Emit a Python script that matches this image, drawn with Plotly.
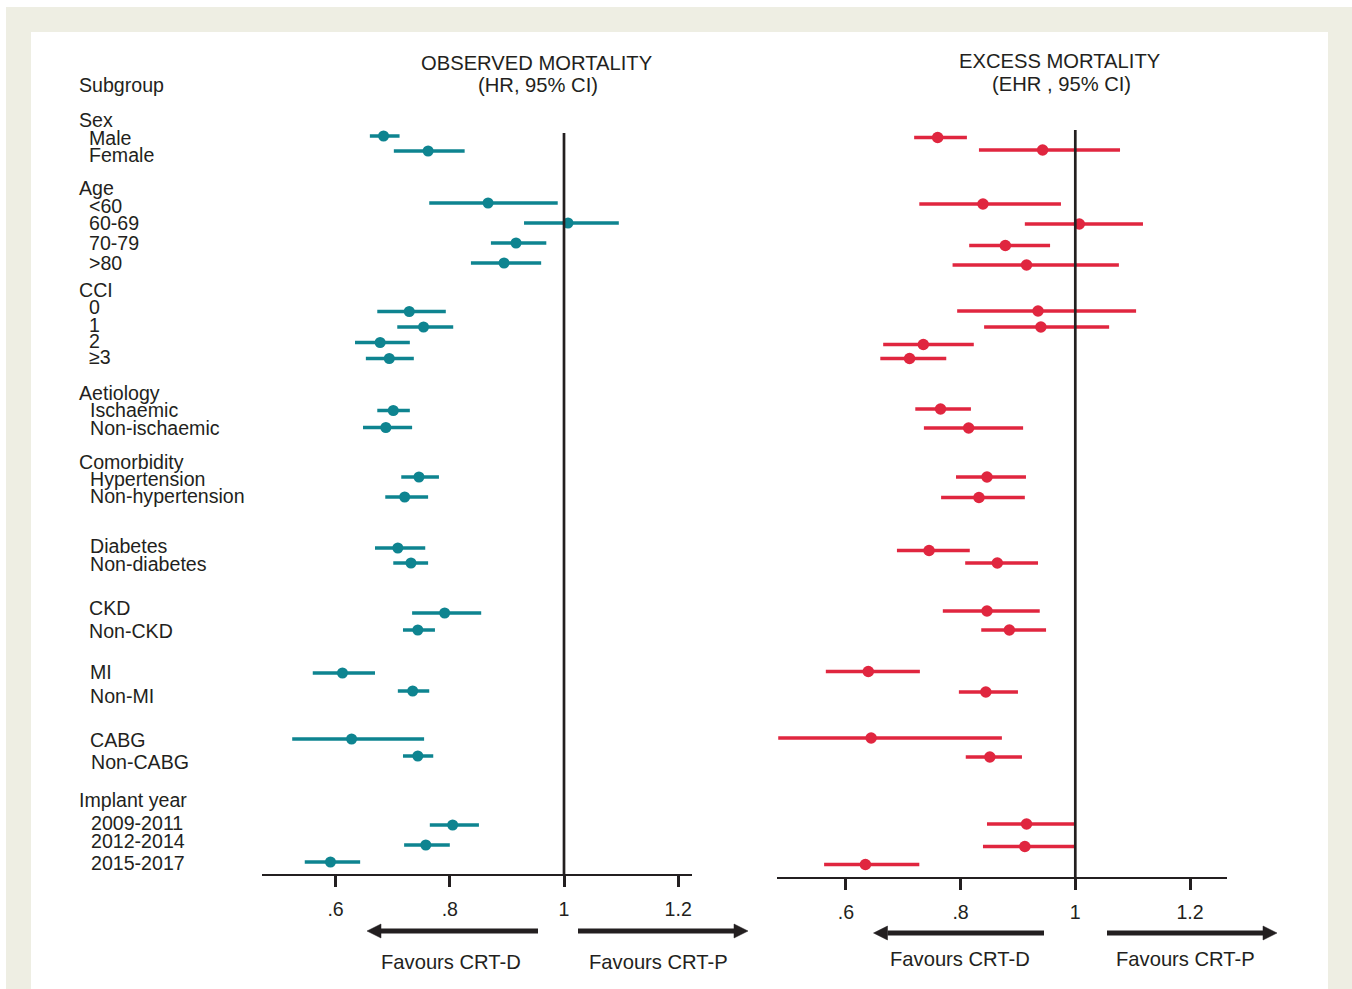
import plotly.graph_objects as go

# ---------------- data ----------------
subgroups = ["Male", "Female", "<60", "60-69", "70-79", ">80", "0", "1", "2", "≥3",
             "Ischaemic", "Non-ischaemic", "Hypertension", "Non-hypertension",
             "Diabetes", "Non-diabetes", "CKD", "Non-CKD", "MI", "Non-MI",
             "CABG", "Non-CABG", "2009-2011", "2012-2014", "2015-2017"]

# Observed mortality (HR, 95% CI)
hr = [0.684, 0.762, 0.867, 1.007, 0.916, 0.895, 0.729, 0.754, 0.678, 0.694,
      0.701, 0.688, 0.746, 0.721, 0.709, 0.732, 0.791, 0.744, 0.612, 0.735,
      0.628, 0.744, 0.805, 0.758, 0.591]
hr_lo = [0.660, 0.702, 0.764, 0.930, 0.872, 0.837, 0.673, 0.708, 0.634, 0.653,
         0.673, 0.648, 0.715, 0.687, 0.669, 0.701, 0.734, 0.718, 0.560, 0.709,
         0.524, 0.718, 0.765, 0.720, 0.546]
hr_hi = [0.712, 0.826, 0.989, 1.096, 0.969, 0.960, 0.793, 0.806, 0.730, 0.737,
         0.730, 0.734, 0.781, 0.762, 0.757, 0.762, 0.855, 0.774, 0.669, 0.764,
         0.755, 0.771, 0.851, 0.800, 0.643]

# Excess mortality (EHR, 95% CI)
ehr = [0.760, 0.943, 0.839, 1.007, 0.878, 0.915, 0.935, 0.940, 0.735, 0.711,
       0.765, 0.814, 0.846, 0.832, 0.745, 0.864, 0.846, 0.885, 0.639, 0.844,
       0.644, 0.851, 0.915, 0.912, 0.634]
ehr_lo = [0.719, 0.832, 0.728, 0.912, 0.815, 0.786, 0.794, 0.841, 0.665, 0.660,
          0.721, 0.736, 0.792, 0.766, 0.689, 0.808, 0.769, 0.836, 0.565, 0.797,
          0.482, 0.809, 0.846, 0.839, 0.562]
ehr_hi = [0.811, 1.078, 0.975, 1.118, 0.956, 1.076, 1.106, 1.059, 0.823, 0.775,
          0.818, 0.909, 0.914, 0.912, 0.816, 0.935, 0.938, 0.949, 0.729, 0.900,
          0.872, 0.907, 1.000, 1.000, 0.728]

tick_vals = [0.6, 0.8, 1.0, 1.2]
tick_text = [".6", ".8", "1", "1.2"]

# ---------------- layout constants (pixel geometry) ----------------
W, H = 1352, 989
# vertical row positions (pixels from top) for each subgroup row
obs_row_y = [136, 151, 203, 223, 243, 263, 311.5, 327, 342.5, 358.5, 410.5, 427.5,
             477, 497, 548, 563, 613, 630, 673, 691, 739, 756, 825, 845, 862]
exc_row_y = [137.5, 150, 204, 224, 245.5, 265, 311, 327, 344.5, 358.5, 409, 428,
             477, 497.5, 550.5, 563, 611, 630, 671.5, 692, 738, 757, 824, 846.5, 864.5]

# left-hand text column: (text, x, y)
label_rows = [
    ("Subgroup", 80, 85), ("Sex", 80, 119.5), ("Male", 90, 137.5), ("Female", 90, 155),
    ("Age", 80, 188), ("<60", 90, 205.7), ("60-69", 90, 223), ("70-79", 90, 243),
    (">80", 90, 262.7), ("CCI", 80, 290), ("0", 90, 307), ("1", 90, 325), ("2", 90, 341),
    ("≥3", 90, 357), ("Aetiology", 80, 393.3), ("Ischaemic", 90.7, 410),
    ("Non-ischaemic", 90.7, 427.8), ("Comorbidity", 80, 461.7),
    ("Hypertension", 90.7, 478.7), ("Non-hypertension", 90.7, 496),
    ("Diabetes", 90.7, 546), ("Non-diabetes", 90.7, 564), ("CKD", 90, 607.8),
    ("Non-CKD", 90, 631), ("MI", 90.7, 672), ("Non-MI", 90.7, 695.5),
    ("CABG", 90.7, 740), ("Non-CABG", 92.3, 762), ("Implant year", 80, 799.5),
    ("2009-2011", 91.7, 823), ("2012-2014", 91.7, 841), ("2015-2017", 91.7, 863),
]

TEAL = "#0e8490"
RED = "#e0263f"
INK = "#231f20"
BEIGE = "#eeeee3"
FONT = "Liberation Sans, Arial, Helvetica, sans-serif"
FS = 19.6
FS_HEAD = 20.2

OBS_X1, OBS_SCALE, OBS_RANGE, OBS_AXIS_Y = 564.0, 571.0, [0.4706, 1.2247], 875
EXC_X1, EXC_SCALE, EXC_RANGE, EXC_AXIS_Y = 1075.3, 573.5, [0.480, 1.2645], 878


def px(x):
    return x / W


def py(y):
    return 1 - y / H


def dom(x1, scale, rng):
    return [px(x1 + (rng[0] - 1) * scale), px(x1 + (rng[1] - 1) * scale)]


fig = go.Figure()

fig.add_trace(go.Scatter(
    x=hr, y=obs_row_y, mode="markers", text=subgroups,
    marker=dict(size=11, color=TEAL),
    error_x=dict(type="data", symmetric=False,
                 array=[h - v for h, v in zip(hr_hi, hr)],
                 arrayminus=[v - l for v, l in zip(hr, hr_lo)],
                 thickness=3.6, width=0, color=TEAL),
    xaxis="x", yaxis="y", hoverinfo="text+x",
))
fig.add_trace(go.Scatter(
    x=ehr, y=exc_row_y, mode="markers", text=subgroups,
    marker=dict(size=11.5, color=RED),
    error_x=dict(type="data", symmetric=False,
                 array=[h - v for h, v in zip(ehr_hi, ehr)],
                 arrayminus=[v - l for v, l in zip(ehr, ehr_lo)],
                 thickness=3.6, width=0, color=RED),
    xaxis="x2", yaxis="y", hoverinfo="text+x",
))

axis_common = dict(
    anchor="free", showline=True, linecolor=INK, linewidth=2,
    ticks="outside", ticklen=11, tickwidth=2.5, tickcolor=INK,
    tickvals=tick_vals, ticktext=tick_text,
    tickfont=dict(size=FS, color=INK, family=FONT),
    showgrid=False, zeroline=False, fixedrange=True, ticklabelstandoff=5,
)

shapes = [
    dict(type="rect", xref="paper", yref="paper", x0=px(6), x1=px(1352), y0=py(989), y1=py(7),
         fillcolor=BEIGE, line=dict(width=0), layer="below"),
    dict(type="rect", xref="paper", yref="paper", x0=px(31), x1=px(1328), y0=py(989), y1=py(32),
         fillcolor="white", line=dict(width=0), layer="below"),
    dict(type="line", xref="x", yref="y", x0=1, x1=1, y0=133, y1=OBS_AXIS_Y,
         line=dict(color=INK, width=2.7)),
    dict(type="line", xref="x2", yref="y", x0=1, x1=1, y0=130, y1=EXC_AXIS_Y,
         line=dict(color=INK, width=2.7)),
]


def arrow(x_tail, x_tip, y, head=14, half=7):
    d = 1 if x_tip > x_tail else -1
    base = x_tip - d * head
    out = [dict(type="line", xref="paper", yref="paper", x0=px(x_tail), x1=px(base),
                y0=py(y), y1=py(y), line=dict(color=INK, width=5))]
    path = "M{},{} L{},{} L{},{} Z".format(px(x_tip), py(y), px(base), py(y - half),
                                             px(base), py(y + half))
    out.append(dict(type="path", xref="paper", yref="paper", path=path,
                    fillcolor=INK, line=dict(color=INK, width=0.5)))
    return out


shapes += arrow(538, 367, 931) + arrow(578, 748, 931)
shapes += arrow(1044, 873.5, 933) + arrow(1107, 1277, 933)

annotations = []
for txt, x, y in label_rows:
    annotations.append(dict(text=txt, x=px(x - 3), y=py(y), xref="paper", yref="paper",
                            xanchor="left", yanchor="middle", showarrow=False,
                            font=dict(size=FS, color=INK, family=FONT)))

center_texts = [
    ("OBSERVED MORTALITY", 537, 62.5), ("(HR, 95% CI)", 537.5, 84.5),
    ("EXCESS MORTALITY", 1060, 60.7), ("(EHR , 95% CI)", 1061, 84),
    ("Favours CRT-D", 451, 961.5), ("Favours CRT-P", 658.5, 961.8),
    ("Favours CRT-D", 960, 958.5), ("Favours CRT-P", 1185, 958.5),
]
for txt, x, y in center_texts:
    annotations.append(dict(text=txt, x=px(x), y=py(y), xref="paper", yref="paper",
                            xanchor="center", yanchor="middle", showarrow=False,
                            font=dict(size=FS_HEAD, color=INK, family=FONT)))

fig.update_layout(
    width=W, height=H, margin=dict(l=0, r=0, t=0, b=0),
    paper_bgcolor="white", plot_bgcolor="rgba(0,0,0,0)",
    showlegend=False, font=dict(family=FONT, color=INK),
    xaxis=dict(domain=dom(OBS_X1, OBS_SCALE, OBS_RANGE), range=OBS_RANGE,
               position=py(OBS_AXIS_Y), **axis_common),
    xaxis2=dict(domain=dom(EXC_X1, EXC_SCALE, EXC_RANGE), range=EXC_RANGE,
                position=py(EXC_AXIS_Y), **axis_common),
    yaxis=dict(domain=[0, 1], range=[H, 0], visible=False, fixedrange=True),
    shapes=shapes, annotations=annotations,
)

fig.write_html("out.html", config={"displayModeBar": False},
               post_script="document.body.style.margin='0';document.body.style.overflow='hidden';")
